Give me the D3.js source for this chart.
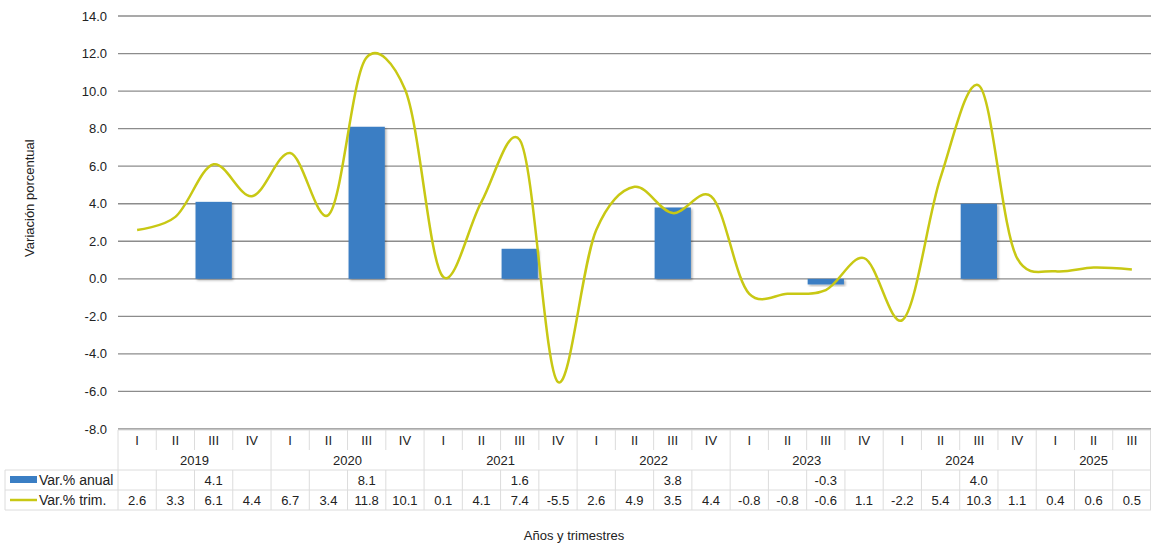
<!DOCTYPE html>
<html>
<head>
<meta charset="utf-8">
<script src="https://cdn.jsdelivr.net/npm/d3@7"></script>
<style>
  body { margin: 0; background: #fff; }
  text { font-family: "Liberation Sans", Arial, sans-serif; fill: #222; }
</style>
</head>
<body>
<svg id="chart" width="1151" height="548"></svg>
<script>
// datos
var years = ["2019", "2020", "2021", "2022", "2023", "2024", "2025"];
var quarters = ["I", "II", "III", "IV"];
var nQuarters = 27;
// var.% anual: solo aparece en el III trimestre
var anual = [null, null, 4.1, null, null, null, 8.1, null, null, null, 1.6, null, null, null, 3.8, null,
             null, null, -0.3, null, null, null, 4.0, null, null, null, null];
var trim = [2.6, 3.3, 6.1, 4.4, 6.7, 3.4, 11.8, 10.1, 0.1, 4.1, 7.4, -5.5, 2.6, 4.9, 3.5, 4.4,
            -0.8, -0.8, -0.6, 1.1, -2.2, 5.4, 10.3, 1.1, 0.4, 0.6, 0.5];
var yTicks = [-8, -6, -4, -2, 0, 2, 4, 6, 8, 10, 12, 14];
var seriesNames = ["Var.% anual", "Var.% trim."];

var margin = {top: 16, right: 0, bottom: 119, left: 118},
    width = 1151 - margin.left - margin.right,
    height = 548 - margin.top - margin.bottom;

var cols = d3.range(nQuarters);
var labels = cols.map(function(i) { return years[Math.floor(i / 4)] + "-" + quarters[i % 4]; });

var x = d3.scaleBand().domain(labels).range([0, width]).padding(0);
var y = d3.scaleLinear().domain([-8, 14]).range([height, 0]);

var svg = d3.select("#chart");
var g = svg.append("g").attr("transform", "translate(" + margin.left + "," + margin.top + ")");

var defs = svg.append("defs");
var f = defs.append("filter").attr("id", "shadow").attr("x", "-20%").attr("y", "-20%").attr("width", "150%").attr("height", "150%");
f.append("feDropShadow").attr("dx", 1.5).attr("dy", 1.5).attr("stdDeviation", 1.2).attr("flood-color", "#000").attr("flood-opacity", 0.3);

// rejilla + eje y
g.selectAll("line.grid")
  .data(yTicks)
  .enter().append("line")
  .attr("class", "grid")
  .attr("x1", 0).attr("x2", width)
  .attr("y1", function(d) { return y(d); })
  .attr("y2", function(d) { return y(d); })
  .attr("stroke", "#8c8c8c")
  .attr("stroke-width", 1.3);

g.selectAll("text.ytick")
  .data(yTicks)
  .enter().append("text")
  .attr("class", "ytick")
  .attr("x", -11)
  .attr("y", function(d) { return y(d); })
  .attr("dy", "0.35em")
  .attr("text-anchor", "end")
  .style("font-size", "13px")
  .text(function(d) { return d.toFixed(1); });

// barras
g.selectAll("rect.bar")
  .data(cols.filter(function(i) { return anual[i] !== null; }))
  .enter().append("rect")
  .attr("class", "bar")
  .attr("x", function(i) { return x(labels[i]) + 1; })
  .attr("width", x.bandwidth() - 2)
  .attr("y", function(i) { return y(Math.max(0, anual[i])); })
  .attr("height", function(i) { return Math.abs(y(anual[i]) - y(0)); })
  .attr("fill", "#3a7ec4")
  .attr("filter", "url(#shadow)");

// linea suavizada
var line = d3.line()
  .x(function(d, i) { return x(labels[i]) + x.bandwidth() / 2; })
  .y(function(d) { return y(d); })
  .curve(d3.curveCatmullRom.alpha(0.2));

g.append("path")
  .datum(trim)
  .attr("d", line)
  .attr("fill", "none")
  .attr("stroke", "#c8c814")
  .attr("stroke-width", 2.5);

// tabla de datos
var tTop = height + 1;
var rowQ = tTop, rowY = tTop + 20, rowA = tTop + 40, rowT = tTop + 60, tBottom = tTop + 80;
var gridC = "#dcdcdc";
var tbl = g.append("g").attr("class", "table");

tbl.append("line").attr("x1", 0).attr("x2", width).attr("y1", rowQ).attr("y2", rowQ).attr("stroke", gridC);
[rowA, rowT, tBottom].forEach(function(yy) {
  tbl.append("line").attr("x1", -113).attr("x2", width).attr("y1", yy).attr("y2", yy).attr("stroke", gridC);
});
tbl.append("line").attr("x1", -113).attr("x2", -113).attr("y1", rowA).attr("y2", tBottom).attr("stroke", gridC);

// lineas verticales
cols.forEach(function(i) {
  var xx = x(labels[i]);
  var top = (i % 4 === 0) ? rowQ : rowA;
  tbl.append("line").attr("x1", xx).attr("x2", xx).attr("y1", top).attr("y2", tBottom).attr("stroke", gridC);
  if (i % 4 !== 0) {
    tbl.append("line").attr("x1", xx).attr("x2", xx).attr("y1", rowQ).attr("y2", rowQ + 20).attr("stroke", gridC);
  }
});
tbl.append("line").attr("x1", width - 0.5).attr("x2", width - 0.5).attr("y1", rowQ).attr("y2", tBottom).attr("stroke", gridC);

function cx(i) { return x(labels[i]) + x.bandwidth() / 2; }

tbl.selectAll("text.q")
  .data(cols).enter().append("text")
  .attr("x", cx).attr("y", rowQ + 10).attr("dy", "0.35em")
  .attr("text-anchor", "middle").style("font-size", "13px")
  .text(function(i) { return quarters[i % 4]; });

tbl.selectAll("text.yr")
  .data(years).enter().append("text")
  .attr("x", function(d, k) {
    var last = Math.min(k * 4 + 3, nQuarters - 1);
    return (x(labels[k * 4]) + x(labels[last]) + x.bandwidth()) / 2;
  })
  .attr("y", rowY + 10).attr("dy", "0.35em")
  .attr("text-anchor", "middle").style("font-size", "13px")
  .text(function(d) { return d; });

tbl.selectAll("text.an")
  .data(cols.filter(function(i) { return anual[i] !== null; })).enter().append("text")
  .attr("x", cx).attr("y", rowA + 10).attr("dy", "0.35em")
  .attr("text-anchor", "middle").style("font-size", "13px")
  .text(function(i) { return anual[i].toFixed(1); });

tbl.selectAll("text.tr")
  .data(cols).enter().append("text")
  .attr("x", cx).attr("y", rowT + 10).attr("dy", "0.35em")
  .attr("text-anchor", "middle").style("font-size", "13px")
  .text(function(i) { return trim[i].toFixed(1); });

// leyenda en la tabla
tbl.append("rect").attr("x", -108).attr("y", rowA + 6).attr("width", 27).attr("height", 7).attr("fill", "#3a7ec4");
tbl.append("line").attr("x1", -108).attr("x2", -81).attr("y1", rowT + 10).attr("y2", rowT + 10)
  .attr("stroke", "#c8c814").attr("stroke-width", 2.5);
tbl.selectAll("text.leg")
  .data(seriesNames).enter().append("text")
  .attr("x", -79)
  .attr("y", function(d, k) { return (k === 0 ? rowA : rowT) + 10; })
  .attr("dy", "0.35em").style("font-size", "14px")
  .text(function(d) { return d; });

// titulos de ejes
svg.append("text")
  .attr("transform", "translate(34," + (margin.top + y(4.3)) + ") rotate(-90)")
  .attr("text-anchor", "middle")
  .style("font-size", "13px")
  .text("Variación porcentual");

svg.append("text")
  .attr("x", 574).attr("y", 540)
  .attr("text-anchor", "middle")
  .style("font-size", "13px")
  .text("Años y trimestres");
</script>
</body>
</html>
